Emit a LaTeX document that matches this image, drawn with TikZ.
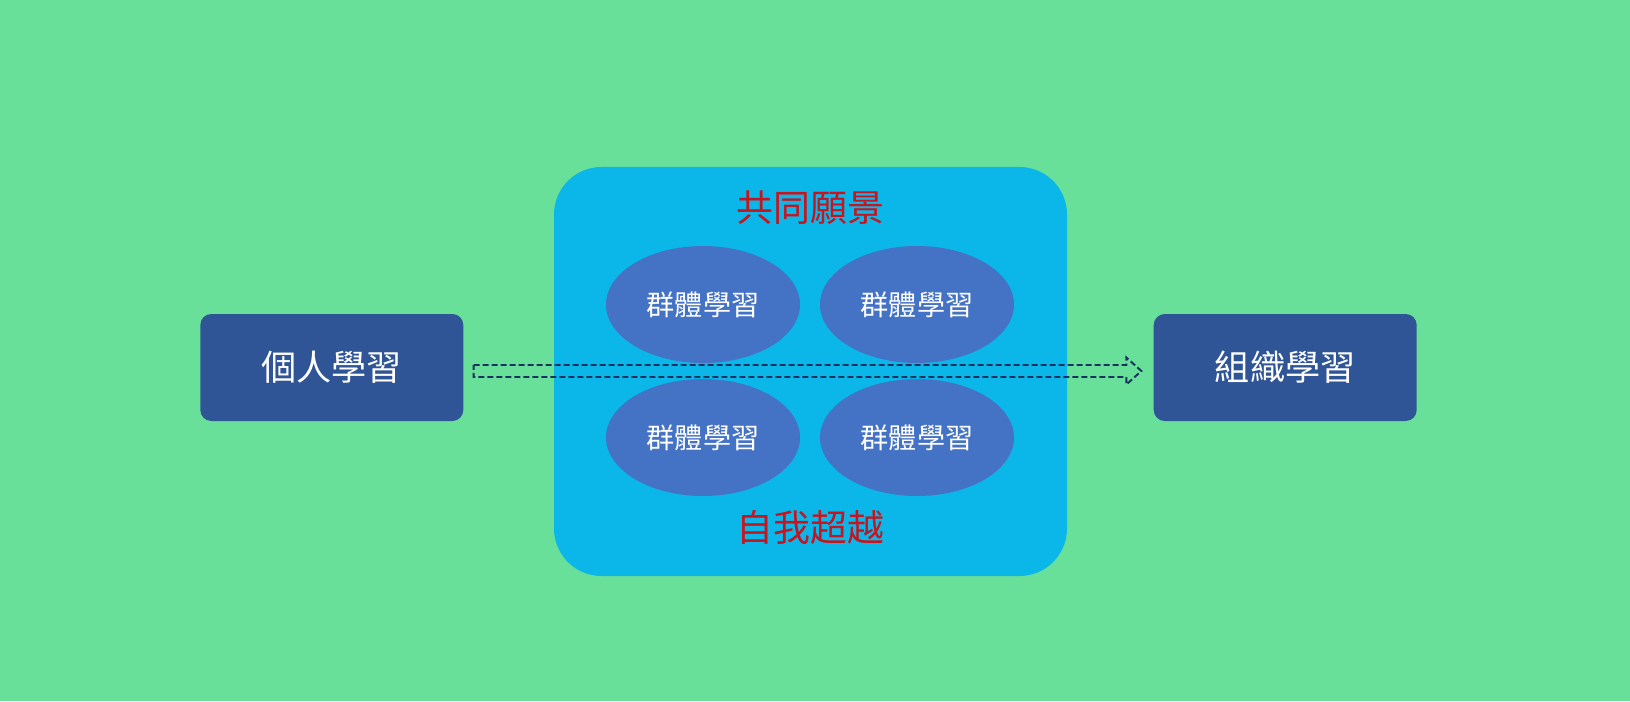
\documentclass[tikz,border=0pt]{standalone}
\usepackage{fontspec}
\newfontfamily\cjk{Noto Sans CJK TC}
\usetikzlibrary{positioning,calc,shapes.geometric}
\definecolor{bggreen}{RGB}{105,224,153}
\definecolor{boxblue}{RGB}{47,85,151}
\definecolor{skyblue}{RGB}{11,183,233}
\definecolor{groupblue}{RGB}{68,114,196}
\definecolor{visionred}{RGB}{200,20,30}
\definecolor{arrownavy}{RGB}{25,50,95}
\tikzset{
  learn-node/.style={fill=boxblue, rounded corners=0.22cm,
    minimum width=5.26cm, minimum height=2.14cm, text=white,
    font=\cjk\fontsize{20pt}{24pt}\selectfont, inner sep=0pt},
  team-region/.style={fill=skyblue, rounded corners=0.95cm,
    minimum width=10.26cm, minimum height=8.18cm, inner sep=0pt},
  group-node/.style={ellipse, fill=groupblue, minimum width=3.88cm,
    minimum height=2.34cm, inner sep=0pt, text=white,
    font=\cjk\fontsize{16pt}{19pt}\selectfont},
  discipline-label/.style={text=visionred,
    font=\cjk\fontsize{21pt}{25pt}\selectfont, inner sep=0pt},
  hollow-arrow/.style={draw=arrownavy, line width=1.1pt,
    dash pattern=on 0.12cm off 0.06cm, line join=miter}
}

\begin{document}
\begin{tikzpicture}
% Canvas
\fill[bggreen] (0,0) rectangle (32.6,14.02);
\useasboundingbox (0,0) rectangle (32.6,14.02);

% Team region in the middle
\node[team-region] (team) at (16.21,6.59) {};
\node[discipline-label] (vision) at ($(team.north)+(0,-0.82)$) {共同願景};
\node[discipline-label] (mastery) at ($(team.south)+(0,0.98)$) {自我超越};

% Four group learning ellipses
\node[group-node] (groupA) at ($(team.center)+(-2.15,1.34)$) {群體學習};
\node[group-node] (groupB) at ($(team.center)+(2.13,1.34)$) {群體學習};
\node[group-node] (groupC) at ($(team.center)+(-2.15,-1.32)$) {群體學習};
\node[group-node] (groupD) at ($(team.center)+(2.13,-1.32)$) {群體學習};

% Individual and organisational learning
\node[learn-node, left=1.8cm of team, yshift=0.08cm] (indiv) {個人學習};
\node[learn-node, right=1.72cm of team, yshift=0.08cm] (org) {組織學習};

% Hollow dashed arrow
\draw[hollow-arrow] ($(indiv.east)+(0.2,0.05)$) -- ($(org.west)+(-0.54,0.05)$)
  -- ($(org.west)+(-0.54,0.2)$) -- ($(org.west)+(-0.24,-0.07)$)
  -- ($(org.west)+(-0.54,-0.34)$) -- ($(org.west)+(-0.54,-0.19)$)
  -- ($(indiv.east)+(0.2,-0.19)$) -- cycle;
\end{tikzpicture}
\end{document}
